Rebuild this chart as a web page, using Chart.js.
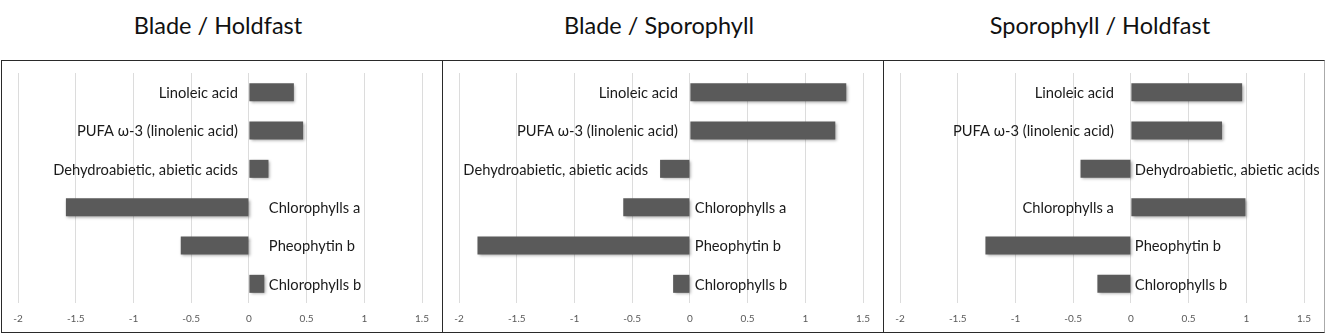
<!DOCTYPE html>
<html>
<head>
<meta charset="utf-8">
<script src="https://cdn.jsdelivr.net/npm/chart.js@4.4.0/dist/chart.umd.min.js"></script>
<style>
  html, body { margin: 0; padding: 0; background: #fff; width: 1332px; height: 333px; overflow: hidden; }
  .title { position: absolute; top: 10px; width: 442px; text-align: center; font-family: Lato, sans-serif; font-size: 23.5px; color: #111; line-height: 30px; }
  .box { position: absolute; top: 60px; width: 442px; height: 273px; box-sizing: border-box; border: 1px solid #2a2a2a; }
  .cv { position: absolute; top: 61px; width: 440px; height: 271px; }
</style>
</head>
<body>
<div class="title" style="left:-3px">Blade / Holdfast</div>
<div class="title" style="left:438px">Blade / Sporophyll</div>
<div class="title" style="left:879px">Sporophyll / Holdfast</div>
<div class="box" style="left:1px"></div>
<div class="box" style="left:442px"></div>
<div class="box" style="left:883px; border-right-color:#aaa"></div>
<div class="cv" style="left:2px"><canvas id="c1"></canvas></div>
<div class="cv" style="left:443px"><canvas id="c2"></canvas></div>
<div class="cv" style="left:884px"><canvas id="c3"></canvas></div>
<script>
// ---- data ----
const categories = ['Linoleic acid', 'PUFA \u03c9-3 (linolenic acid)', 'Dehydroabietic, abietic acids', 'Chlorophylls a', 'Pheophytin b', 'Chlorophylls b'];
const bladeHoldfast      = [0.39, 0.47, 0.17, -1.585, -0.59, 0.134];
const bladeSporophyll    = [1.355, 1.26, -0.258, -0.577, -1.84, -0.145];
const sporophyllHoldfast = [0.964, 0.79, -0.436, 0.993, -1.26, -0.29];
// which side of the zero line each category label sits on
const sidesBH = ['L', 'L', 'L', 'R', 'R', 'R'];
const sidesBS = ['L', 'L', 'L', 'R', 'R', 'R'];
const sidesSH = ['L', 'L', 'R', 'L', 'R', 'R'];
const xMin = -2, xMax = 1.5, xStep = 0.5;

const shadowPlugin = {
  id: 'barShadow',
  beforeDatasetsDraw(chart) {
    const ctx = chart.ctx;
    ctx.save();
    ctx.shadowColor = 'rgba(0,0,0,0.35)';
    ctx.shadowBlur = 3;
    ctx.shadowOffsetX = 1.5;
    ctx.shadowOffsetY = 1.5;
  },
  afterDatasetsDraw(chart) { chart.ctx.restore(); }
};

const catLabelPlugin = {
  id: 'catLabels',
  afterDatasetsDraw(chart, args, opts) {
    const ctx = chart.ctx;
    const xs = chart.scales.x, ys = chart.scales.y;
    const vals = chart.data.datasets[0].data;
    ctx.save();
    ctx.font = opts.font;
    ctx.fillStyle = opts.color;
    ctx.textBaseline = 'middle';
    chart.data.labels.forEach((lab, i) => {
      const v = vals[i];
      const y = ys.getPixelForValue(i);
      if (opts.sides[i] === 'L') {
        ctx.textAlign = 'right';
        ctx.fillText(lab, xs.getPixelForValue(Math.min(0, v)) - opts.gapL, y + 1);
      } else {
        ctx.textAlign = 'left';
        ctx.fillText(lab, xs.getPixelForValue(0) + opts.gapR, y + 1);
      }
    });
    ctx.restore();
  }
};

function makeChart(id, values, sides, gapL, gapR) {
  return new Chart(document.getElementById(id), {
    type: 'bar',
    data: {
      labels: categories,
      datasets: [{ data: values, backgroundColor: '#5a5a5a', borderWidth: 0, categoryPercentage: 1, barPercentage: 0.47 }]
    },
    options: {
      indexAxis: 'y',
      responsive: true,
      maintainAspectRatio: false,
      animation: false,
      layout: { padding: { left: 16, right: 20, top: 12, bottom: 7 } },
      plugins: {
        legend: { display: false },
        tooltip: { enabled: false },
        catLabels: { sides: sides, gapL: gapL, gapR: gapR, font: '14.7px Lato', color: '#1a1a1a' }
      },
      scales: {
        x: {
          min: xMin, max: xMax,
          afterFit: s => { s.height = 22; },
          ticks: {
            stepSize: xStep, color: '#595959', font: { family: 'Lato', size: 10 }, padding: 10,
            maxRotation: 0,
            callback: v => String(Math.round(v * 10) / 10)
          },
          grid: { color: '#dcdcdc', drawTicks: false },
          border: { display: false }
        },
        y: {
          display: false
        }
      }
    },
    plugins: [shadowPlugin, catLabelPlugin]
  });
}

makeChart('c1', bladeHoldfast, sidesBH, 11, 20);
makeChart('c2', bladeSporophyll, sidesBS, 12, 5);
makeChart('c3', sporophyllHoldfast, sidesSH, 17, 4);
</script>
</body>
</html>
